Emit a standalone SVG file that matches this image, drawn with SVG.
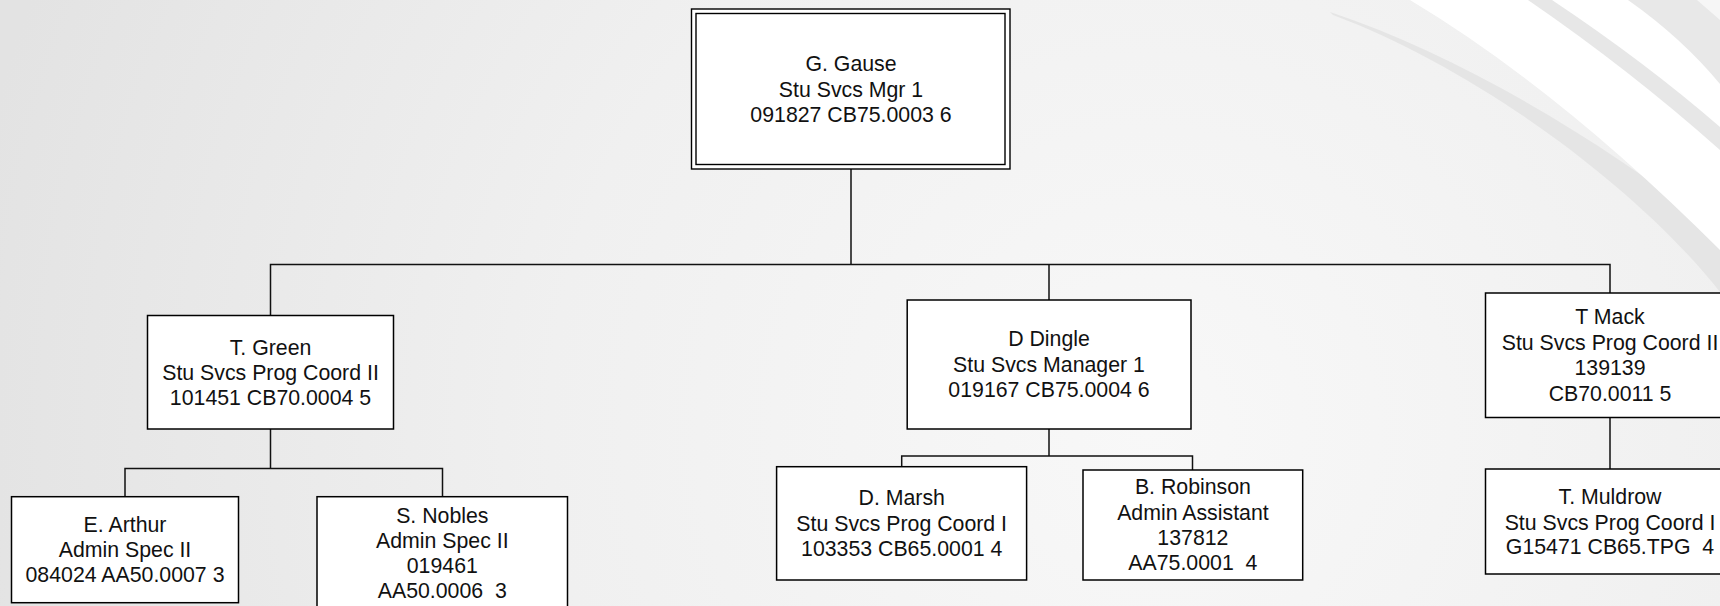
<svg xmlns="http://www.w3.org/2000/svg" width="1720" height="606" viewBox="0 0 1720 606">
<defs>
<radialGradient id="bg" gradientUnits="userSpaceOnUse" cx="1150" cy="430" r="1200">
<stop offset="0" stop-color="#f8f8f8"/>
<stop offset="0.5" stop-color="#f0f0f0"/>
<stop offset="1" stop-color="#e3e3e3"/>
</radialGradient>
<style>
.box{fill:#ffffff;stroke:#000000;stroke-width:1.5}
.con{fill:none;stroke:#111111;stroke-width:1.5}
text{font-family:"Liberation Sans",Arial,sans-serif;font-size:21.3px;fill:#111111;text-anchor:middle;white-space:pre}
</style>
</defs>
<g id="background">
<rect x="0" y="0" width="1720" height="606" fill="url(#bg)"/>
<path d="M1330 12 C1460 55 1600 140 1720 232 L1720 292 C1640 190 1480 70 1333 15 Z" fill="#e5e5e5"/>
<path d="M1410 0 Q1560 90 1720 250 L1720 0 Z" fill="#ffffff"/>
<path d="M1528 0 L1552 0 Q1645 62 1720 127 L1720 150 Q1630 70 1528 0 Z" fill="#e7e7e7"/>
<path d="M1628 0 Q1682 38 1720 84 L1720 0 Z" fill="#e8e8e8"/>
<path d="M1697 0 L1720 0 L1720 20 Z" fill="#f6f6f6"/>
</g>
<g id="connectors">
<path class="con" d="M851 169 V264.5"/>
<path class="con" d="M270.5 315.5 V264.5 H1610 V293"/>
<path class="con" d="M1049 264.5 V300"/>
<path class="con" d="M270.5 429 V468.5"/>
<path class="con" d="M125 496.7 V468.5 H442.5 V496.7"/>
<path class="con" d="M1049 429 V456"/>
<path class="con" d="M901.7 466.7 V456 H1192.5 V470"/>
<path class="con" d="M1610 417.5 V469"/>
</g>
<g id="node-gause">
<rect x="691.5" y="9" width="318.5" height="160" fill="#ffffff" stroke="#000" stroke-width="1.4"/>
<rect x="696" y="13.5" width="309" height="151" fill="none" stroke="#000" stroke-width="1.4"/>
<text x="851" y="71">G. Gause</text>
<text x="851" y="96.5">Stu Svcs Mgr 1</text>
<text x="851" y="121.5">091827 CB75.0003 6</text>
</g>
<g id="node-green">
<rect class="box" x="147.5" y="315.5" width="246" height="113.5"/>
<text x="270.5" y="354.5">T. Green</text>
<text x="270.5" y="380">Stu Svcs Prog Coord II</text>
<text x="270.5" y="405">101451 CB70.0004 5</text>
</g>
<g id="node-arthur">
<rect class="box" x="11.5" y="496.7" width="227" height="106"/>
<text x="125" y="532">E. Arthur</text>
<text x="125" y="557.3">Admin Spec II</text>
<text x="125" y="582.3">084024 AA50.0007 3</text>
</g>
<g id="node-nobles">
<rect class="box" x="317" y="496.7" width="250.5" height="113"/>
<text x="442.3" y="522.7">S. Nobles</text>
<text x="442.3" y="547.7">Admin Spec II</text>
<text x="442.3" y="573.3">019461</text>
<text x="442.3" y="598.3" xml:space="preserve">AA50.0006  3</text>
</g>
<g id="node-dingle">
<rect class="box" x="907.2" y="300" width="283.8" height="129"/>
<text x="1049" y="346">D Dingle</text>
<text x="1049" y="371.7">Stu Svcs Manager 1</text>
<text x="1049" y="396.7">019167 CB75.0004 6</text>
</g>
<g id="node-marsh">
<rect class="box" x="776.6" y="466.7" width="250" height="113.3"/>
<text x="901.7" y="505">D. Marsh</text>
<text x="901.7" y="530.7">Stu Svcs Prog Coord I</text>
<text x="901.7" y="555.5">103353 CB65.0001 4</text>
</g>
<g id="node-robinson">
<rect class="box" x="1083" y="470" width="219.7" height="110"/>
<text x="1192.9" y="494">B. Robinson</text>
<text x="1192.9" y="519.5">Admin Assistant</text>
<text x="1192.9" y="545">137812</text>
<text x="1192.9" y="570" xml:space="preserve">AA75.0001  4</text>
</g>
<g id="node-mack">
<rect class="box" x="1485.5" y="293" width="249" height="124.5"/>
<text x="1610" y="324">T Mack</text>
<text x="1610" y="349.5">Stu Svcs Prog Coord II</text>
<text x="1610" y="375">139139</text>
<text x="1610" y="400.5">CB70.0011 5</text>
</g>
<g id="node-muldrow">
<rect class="box" x="1485.5" y="469" width="249" height="105"/>
<text x="1610" y="504.4">T. Muldrow</text>
<text x="1610" y="529.5">Stu Svcs Prog Coord I</text>
<text x="1610" y="554" xml:space="preserve">G15471 CB65.TPG  4</text>
</g>
</svg>
